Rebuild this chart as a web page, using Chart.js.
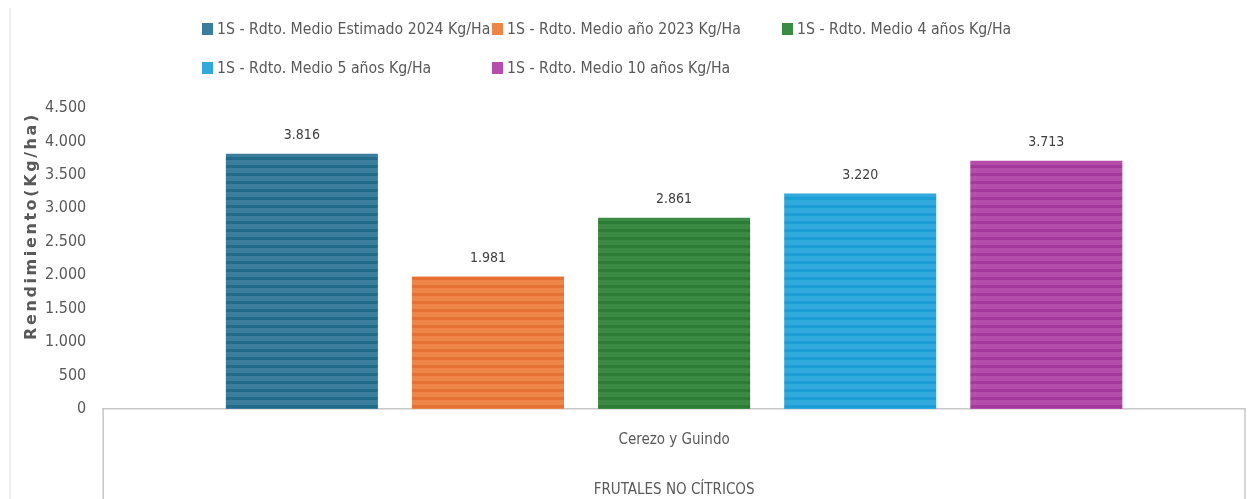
<!DOCTYPE html>
<html>
<head>
<meta charset="utf-8">
<script src="https://cdn.jsdelivr.net/npm/chart.js@4.4.1/dist/chart.umd.min.js"></script>
<style>
  html, body { margin: 0; padding: 0; background: #fff; }
  #wrap { position: relative; width: 1253px; height: 499px; overflow: hidden; }
  #frame { position: absolute; left: 9px; top: 8px; width: 0; height: 500px; border-left: 2px solid #efefef; }
  canvas { position: absolute; left: 0; top: 0; }
  .leg { position: absolute; font-family: 'DejaVu Sans Condensed', sans-serif; font-size: 15.7px; color: #595959; white-space: nowrap; line-height: 20px; }
  .leg span.box { display: inline-block; width: 11px; height: 12px; margin-right: 4px; vertical-align: -1px; }
</style>
</head>
<body>
<div id="wrap">
  <div id="frame"></div>
  <canvas id="chart" width="1253" height="499"></canvas>
  <div id="legend"></div>
</div>
<script>
// data
const categories = [['Cerezo y Guindo', '', 'FRUTALES NO CÍTRICOS']];
const seriesLabels = [
  '1S - Rdto. Medio Estimado 2024 Kg/Ha',
  '1S - Rdto. Medio año 2023 Kg/Ha',
  '1S - Rdto. Medio 4 años Kg/Ha',
  '1S - Rdto. Medio 5 años Kg/Ha',
  '1S - Rdto. Medio 10 años Kg/Ha'
];
const seriesValues = [3816, 1981, 2861, 3220, 3713];
const yMin = 0;
const yMax = 4500;
const yStep = 500;
const yTitle = 'Rendimiento(Kg/ha)';

// colours (light stripe / dark stripe)
const lightColors = ['#3a7d9c', '#ee8549', '#3b8b45', '#30aadd', '#b44dac'];
const darkColors = ['#236b8b', '#e57234', '#2b7b35', '#1d9ed4', '#a3399b'];

const FONT = '"DejaVu Sans Condensed", "DejaVu Sans", sans-serif';

function fmt(n) {
  return String(n).replace(/\B(?=(\d{3})+(?!\d))/g, '.');
}

function stripes(light, dark) {
  const c = document.createElement('canvas');
  c.width = 8; c.height = 8;
  const g = c.getContext('2d');
  g.fillStyle = light; g.fillRect(0, 0, 8, 8);
  g.fillStyle = dark; g.fillRect(0, 5, 8, 3);
  return document.getElementById('chart').getContext('2d').createPattern(c, 'repeat');
}

// legend (html)
const legendPos = [[202, 19], [492, 19], [782, 19], [202, 58], [492, 58]];
const legendEl = document.getElementById('legend');
seriesLabels.forEach((lab, i) => {
  const d = document.createElement('div');
  d.className = 'leg';
  d.style.left = legendPos[i][0] + 'px';
  d.style.top = legendPos[i][1] + 'px';
  d.innerHTML = '<span class="box" style="background:' + lightColors[i] + '"></span>' + lab;
  legendEl.appendChild(d);
});

const valueLabels = {
  id: 'valueLabels',
  afterDatasetsDraw(chart) {
    const ctx = chart.ctx;
    ctx.save();
    ctx.font = '14px ' + FONT;
    ctx.fillStyle = '#404040';
    ctx.textAlign = 'center';
    ctx.textBaseline = 'middle';
    chart.data.datasets.forEach((ds, i) => {
      const bar = chart.getDatasetMeta(i).data[0];
      ctx.fillText(fmt(ds.data[0]), bar.x, bar.y - 18);
    });
    ctx.restore();
  }
};

// axis box below the category axis + spaced y title
const axisExtras = {
  id: 'axisExtras',
  afterDraw(chart) {
    const ctx = chart.ctx;
    const a = chart.chartArea;
    ctx.save();
    ctx.strokeStyle = '#c8c8c8';
    ctx.lineWidth = 1.5;
    ctx.beginPath();
    ctx.moveTo(a.left, a.bottom);
    ctx.lineTo(a.left, chart.height);
    ctx.moveTo(a.right, a.bottom);
    ctx.lineTo(a.right, chart.height);
    ctx.stroke();

    ctx.translate(32, a.top + 118);
    ctx.rotate(-Math.PI / 2);
    ctx.font = 'bold 16px "DejaVu Sans", sans-serif';
    ctx.letterSpacing = '2.6px';
    ctx.fillStyle = '#595959';
    ctx.textAlign = 'center';
    ctx.textBaseline = 'middle';
    ctx.fillText(yTitle, 0, 0);
    ctx.restore();
  }
};

const ctx = document.getElementById('chart').getContext('2d');
const chart = new Chart(ctx, {
  type: 'bar',
  data: {
    labels: categories,
    datasets: seriesLabels.map((lab, i) => ({
      label: lab,
      data: [seriesValues[i]],
      backgroundColor: stripes(lightColors[i], darkColors[i]),
      borderWidth: 0,
      barPercentage: 0.817,
      categoryPercentage: 0.815
    }))
  },
  options: {
    responsive: false,
    animation: false,
    layout: { padding: { top: 108, right: 8, left: 28, bottom: -23 } },
    plugins: {
      legend: { display: false },
      tooltip: { enabled: false }
    },
    scales: {
      x: {
        grid: { display: false, drawTicks: false },
        border: { display: true, color: '#c8c8c8', width: 1.5 },
        ticks: {
          color: '#595959',
          padding: 19,
          font: { family: FONT, size: 15, lineHeight: '25px' }
        }
      },
      y: {
        min: yMin,
        max: yMax,
        grid: { display: false, drawTicks: false },
        border: { display: false },
        ticks: {
          stepSize: yStep,
          color: '#595959',
          padding: 17,
          font: { family: FONT, size: 16 },
          callback: v => fmt(v)
        }
      }
    }
  },
  plugins: [valueLabels, axisExtras]
});
</script>
</body>
</html>
